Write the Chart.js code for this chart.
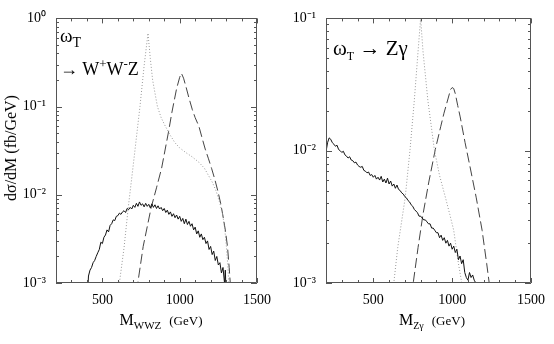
<!DOCTYPE html>
<html>
<head>
<meta charset="utf-8">
<script src="https://cdn.jsdelivr.net/npm/chart.js@4.4.1/dist/chart.umd.min.js"></script>
<style>
  html, body { margin: 0; padding: 0; background: #fff; }
  body { width: 554px; height: 344px; position: relative; overflow: hidden; font-family: "Liberation Serif", "Times New Roman", serif; color: #000; }
  .pane { position: absolute; top: 0; height: 344px; }
  .txt { position: absolute; white-space: nowrap; line-height: 1; }
  sub, sup { line-height: 0; }
</style>
</head>
<body>
<div class="pane" style="left:0;width:280px;"><canvas id="cL"></canvas></div>
<div class="pane" style="left:280px;width:274px;"><canvas id="cR"></canvas></div>

<div class="txt" style="left:11px;top:148px;font-size:16px;transform:translate(-50%,-50%) rotate(-90deg);">dσ/dM (fb/GeV)</div>
<div class="txt" style="left:161px;top:320px;font-size:16px;transform:translate(-50%,-50%);">M<sub style="font-size:11px;">WWZ</sub>&nbsp;&nbsp;<span style="font-size:13px;">(GeV)</span></div>
<div class="txt" style="left:432px;top:320px;font-size:16px;transform:translate(-50%,-50%);">M<sub style="font-size:10px;">Zγ</sub>&nbsp;&nbsp;<span style="font-size:13px;">(GeV)</span></div>
<div class="txt" style="left:60px;top:26px;font-size:19px;">ω<sub style="font-size:14px;">T</sub></div>
<div class="txt" style="left:60px;top:60px;font-size:18px;">→ W<sup style="font-size:13px;">+</sup>W<sup style="font-size:13px;">-</sup>Z</div>
<div class="txt" style="left:333px;top:38px;font-size:21px;">ω<sub style="font-size:12px;">T</sub> → Zγ</div>

<script>
// ---------- Data ----------
// Left panel: omega_T -> W+W-Z
const wwzSolidX = [405,410,420,430,440,450,460,470,480,490,500,510,520,530,540,550,560,570,580,590,600,610,620,630,640,650,660,670,680,690,700,710,720,730,740,750,760,770,780,790,800,810,820,830,840,850,860,870,880,890,900,910,920,930,940,950,960,970,980,990,1000,1010,1020,1030,1040,1050,1060,1070,1080,1090,1100,1110,1120,1130,1140,1150,1160,1170,1180,1190,1200,1210,1220,1230,1240,1250,1260,1270,1280,1290,1295,1300];
const wwzSolidY = [0.0008,0.0012,0.0014,0.0015,0.0017,0.0018,0.0020,0.0022,0.0024,0.0029,0.0028,0.0033,0.0035,0.0040,0.0038,0.0045,0.0047,0.0052,0.0051,0.0057,0.0058,0.0062,0.0060,0.0064,0.0066,0.0063,0.0070,0.0068,0.0072,0.0069,0.0076,0.0072,0.0080,0.0074,0.0083,0.0076,0.0079,0.0073,0.0080,0.0074,0.0078,0.0071,0.0079,0.0072,0.0077,0.0070,0.0075,0.0069,0.0072,0.0066,0.0070,0.0063,0.0067,0.0060,0.0064,0.0057,0.0061,0.0055,0.0059,0.0053,0.0057,0.0050,0.0054,0.0047,0.0053,0.0046,0.0050,0.0044,0.0047,0.0040,0.0043,0.0036,0.0039,0.0033,0.0036,0.0031,0.0033,0.0028,0.0030,0.0024,0.0026,0.0021,0.0023,0.0018,0.0020,0.0016,0.0017,0.0013,0.0015,0.0010,0.0014,0.0008];

const wwzDottedX = [600,610,640,667,700,743,770,795,810,825,856,880,907,940,969,1000,1041,1080,1124,1160,1185,1210,1236,1260,1278,1292,1302,1312,1319];
const wwzDottedY = [0.0008,0.001,0.0025,0.0071,0.022,0.1,0.29,0.68,0.35,0.2,0.1,0.075,0.06,0.047,0.039,0.034,0.030,0.027,0.0234,0.020,0.0167,0.014,0.011,0.008,0.006,0.004,0.0026,0.0015,0.0009];

const wwzDashedX = [725,729,764,815,850,883,928,949,980,1000,1011,1025,1041,1060,1082,1100,1124,1145,1165,1185,1206,1227,1247,1265,1278,1295,1309,1320,1329];
const wwzDashedY = [0.0008,0.001,0.0026,0.0071,0.012,0.02,0.052,0.085,0.16,0.215,0.239,0.21,0.167,0.125,0.092,0.075,0.060,0.044,0.033,0.026,0.020,0.015,0.011,0.008,0.006,0.004,0.0026,0.0015,0.0009];

// Right panel: omega_T -> Z gamma
const zgSolidX = [200,210,220,230,240,250,260,270,280,290,300,310,320,330,340,350,360,370,380,390,400,410,420,430,440,450,460,470,480,490,500,510,520,530,540,550,560,570,580,590,600,610,620,630,640,650,660,670,680,690,700,710,720,730,740,750,760,770,780,790,800,810,820,830,840,850,860,870,880,890,900,910,920,930,940,950,960,970,980,990,1000,1010,1020,1030,1040,1050,1060,1070,1080,1090,1100,1110,1120,1130,1140,1150,1160];
const zgSolidY = [0.0098,0.0115,0.0125,0.0122,0.0115,0.0112,0.0108,0.0110,0.0102,0.0100,0.0097,0.0099,0.0093,0.0091,0.0088,0.0090,0.0085,0.0084,0.0081,0.0082,0.0078,0.0076,0.0075,0.0076,0.0071,0.0070,0.0068,0.0069,0.0065,0.0066,0.0063,0.0065,0.0061,0.0063,0.0060,0.0064,0.0058,0.0061,0.0057,0.0062,0.0056,0.0059,0.0054,0.0056,0.0052,0.0055,0.0051,0.0050,0.0048,0.0047,0.0045,0.0044,0.0042,0.0041,0.0039,0.0038,0.0036,0.0035,0.0034,0.0032,0.0032,0.0031,0.0030,0.0030,0.0029,0.0028,0.0028,0.0026,0.0026,0.0025,0.0024,0.0024,0.0022,0.0023,0.0021,0.0022,0.0020,0.0021,0.0019,0.0020,0.0018,0.0019,0.0017,0.0018,0.0015,0.0016,0.0014,0.0015,0.0012,0.0011,0.00105,0.0012,0.0011,0.00115,0.00105,0.0010,0.0009];

const zgDottedX = [620,630,655,702,733,760,784,800,815,846,887,920,958,985,1010,1040,1061,1065];
const zgDottedY = [0.0008,0.001,0.00186,0.0044,0.0102,0.024,0.0567,0.1,0.0567,0.024,0.0102,0.0065,0.0044,0.0033,0.0025,0.0014,0.001,0.0009];

const zgDashedX = [748,753,784,815,852,893,928,948,975,990,1000,1010,1020,1035,1051,1082,1112,1153,1190,1219,1235,1240];
const zgDashedY = [0.0008,0.001,0.00186,0.0033,0.0058,0.0102,0.0153,0.0192,0.025,0.029,0.030,0.0295,0.027,0.022,0.018,0.0115,0.0077,0.0044,0.0025,0.0014,0.001,0.0009];

// Axis ranges and labelled ticks
const xRange = [200, 1500];
const xTickLabels = [500, 1000, 1500];
const leftYRange = [1e-3, 1];
const rightYRange = [1e-3, 1e-1];

// ---------- Helpers ----------
const pts = (xs, ys) => xs.map((x, i) => ({ x: x, y: ys[i] }));
const SUP = { '0': '⁰', '1': '¹', '2': '²', '3': '³', '-': '⁻' };
const powLabel = (v) => {
  const e = Math.log10(v);
  const r = Math.round(e);
  if (Math.abs(e - r) > 1e-6) return '';
  return '10' + String(r).split('').map(c => SUP[c]).join('');
};

const frameTicks = {
  id: 'frameTicks',
  afterDraw(chart) {
    const { ctx, chartArea: a, scales: { x, y } } = chart;
    ctx.save();
    ctx.strokeStyle = '#555';
    ctx.lineWidth = 1;
    ctx.beginPath();
    ctx.rect(Math.round(a.left) + 0.5, Math.round(a.top) + 0.5, Math.round(a.right - a.left) - 1, Math.round(a.bottom - a.top) - 1);
    ctx.stroke();
    ctx.beginPath();
    for (let v = x.min; v <= x.max + 1e-9; v += 100) {
      const px = Math.round(x.getPixelForValue(v)) + 0.5;
      const len = (v % 500 === 0) ? 5 : 3;
      ctx.moveTo(px, a.bottom); ctx.lineTo(px, a.bottom - len);
      ctx.moveTo(px, a.top); ctx.lineTo(px, a.top + len);
    }
    const e0 = Math.round(Math.log10(y.min)), e1 = Math.round(Math.log10(y.max));
    for (let e = e0; e <= e1; e++) {
      for (let m = 1; m <= 9; m++) {
        const v = m * Math.pow(10, e);
        if (v > y.max * 1.0001) break;
        const py = Math.round(y.getPixelForValue(v)) + 0.5;
        const len = (m === 1) ? 6 : 3;
        ctx.moveTo(a.left, py); ctx.lineTo(a.left + len, py);
        ctx.moveTo(a.right, py); ctx.lineTo(a.right - len, py);
      }
    }
    ctx.stroke();
    ctx.restore();
  }
};

function makeChart(id, datasets, yRange, yWidth, rightPad) {
  return new Chart(document.getElementById(id), {
    type: 'line',
    data: { datasets: datasets },
    options: {
      responsive: true,
      maintainAspectRatio: false,
      animation: false,
      parsing: true,
      layout: { autoPadding: false, padding: { top: 13, right: rightPad, left: 0, bottom: 0 } },
      plugins: { legend: { display: false }, tooltip: { enabled: false } },
      elements: { point: { radius: 0 }, line: { tension: 0 } },
      scales: {
        x: {
          type: 'linear', min: xRange[0], max: xRange[1],
          afterFit: (s) => { s.height = 61; },
          afterBuildTicks: (s) => { s.ticks = xTickLabels.map(v => ({ value: v })); },
          ticks: { autoSkip: false, maxRotation: 0, padding: 9, color: '#000',
                   font: { family: 'Liberation Serif', size: 14 },
                   callback: (v) => String(v) },
          grid: { drawOnChartArea: false, drawTicks: false, display: false },
          border: { display: false }
        },
        y: {
          type: 'logarithmic', min: yRange[0], max: yRange[1],
          afterFit: (s) => { s.width = yWidth; },
          ticks: { autoSkip: false, padding: 10, color: '#000',
                   font: { family: 'Liberation Serif', size: 14 },
                   callback: (v) => powLabel(v) },
          grid: { drawOnChartArea: false, drawTicks: false, display: false },
          border: { display: false }
        }
      }
    },
    plugins: [frameTicks]
  });
}

const solid = (d) => ({ data: d, borderColor: '#111', borderWidth: 1, fill: false });
const dotted = (d) => ({ data: d, borderColor: '#999', borderWidth: 1, borderDash: [1, 2], fill: false });
const dashed = (d) => ({ data: d, borderColor: '#444', borderWidth: 1, borderDash: [10, 4], fill: false });

makeChart('cL', [
  solid(pts(wwzSolidX, wwzSolidY)),
  dotted(pts(wwzDottedX, wwzDottedY)),
  dashed(pts(wwzDashedX, wwzDashedY))
], leftYRange, 56, 13);

makeChart('cR', [
  solid(pts(zgSolidX, zgSolidY)),
  dotted(pts(zgDottedX, zgDottedY)),
  dashed(pts(zgDashedX, zgDashedY))
], rightYRange, 46, 16);
</script>
</body>
</html>
